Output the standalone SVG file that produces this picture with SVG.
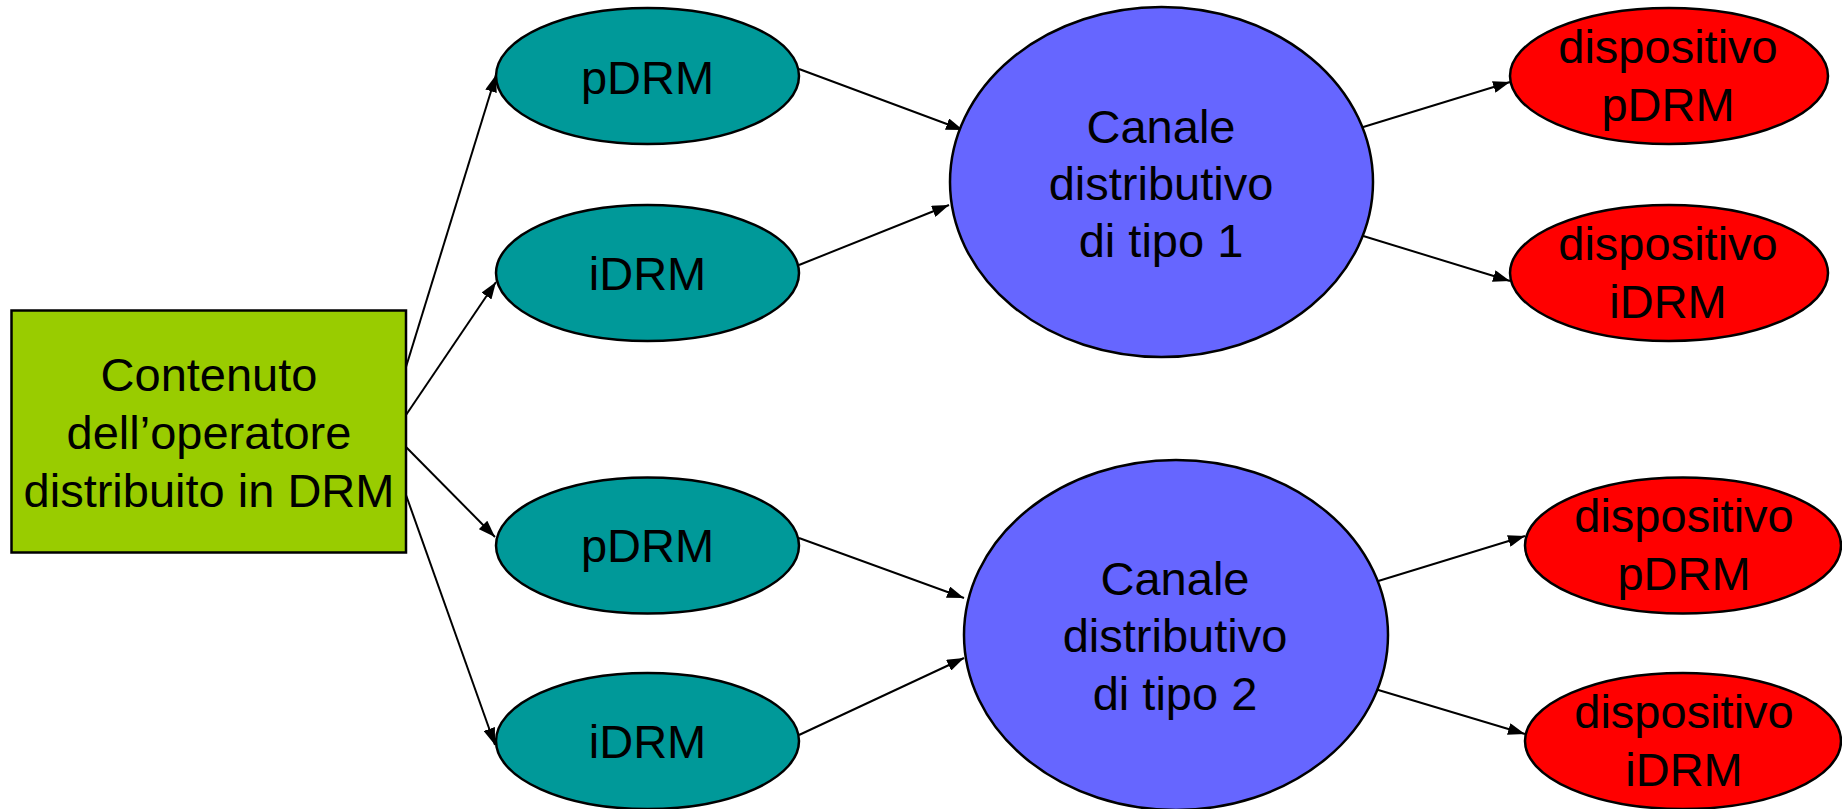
<svg xmlns="http://www.w3.org/2000/svg" width="1842" height="809" viewBox="0 0 1842 809">
<style>
.t{font-family:"Liberation Sans",Arial,sans-serif;font-size:47px;fill:#000;text-anchor:middle}
.n{stroke:#000;stroke-width:2.5}
.teal{fill:#009999}.blue{fill:#6666FF}.red{fill:#FF0000}.green{fill:#99CC00}
.c{stroke:#000;stroke-width:2;fill:none;marker-end:url(#ah)}
</style>
<defs>
<marker id="ah" markerUnits="userSpaceOnUse" markerWidth="18" markerHeight="12" refX="17" refY="6" orient="auto">
<path d="M0,0 L17,6 L0,12 z" fill="#000"/>
</marker>
</defs>
<rect width="1842" height="809" fill="#fff"/>
<g id="connectors">
<line class="c" x1="406" y1="367" x2="496" y2="75"/>
<line class="c" x1="406" y1="415" x2="496" y2="282"/>
<line class="c" x1="406" y1="447" x2="495" y2="537"/>
<line class="c" x1="406" y1="495" x2="495" y2="745"/>
<line class="c" x1="799" y1="69" x2="963" y2="130"/>
<line class="c" x1="799" y1="265" x2="949" y2="205"/>
<line class="c" x1="799" y1="538" x2="964" y2="598"/>
<line class="c" x1="799" y1="735" x2="964" y2="658"/>
<line class="c" x1="1360" y1="128" x2="1510" y2="82"/>
<line class="c" x1="1360" y1="235" x2="1510" y2="281"/>
<line class="c" x1="1375" y1="582" x2="1525" y2="536"/>
<line class="c" x1="1375" y1="689" x2="1525" y2="734"/>
</g>
<g id="source">
<rect class="n green" x="11.5" y="310.5" width="394.5" height="242"/>
<text class="t" x="209" y="391">Contenuto</text>
<text class="t" x="209" y="449">dell’operatore</text>
<text class="t" x="209" y="507">distribuito in DRM</text>
</g>
<g id="pdrm1">
<ellipse class="n teal" cx="647.5" cy="76" rx="151.5" ry="68"/>
<text class="t" x="647.5" y="94">pDRM</text>
</g>
<g id="idrm1">
<ellipse class="n teal" cx="647.5" cy="273" rx="151.5" ry="68"/>
<text class="t" x="647.5" y="290">iDRM</text>
</g>
<g id="pdrm2">
<ellipse class="n teal" cx="647.5" cy="545.5" rx="151.5" ry="68"/>
<text class="t" x="647.5" y="562">pDRM</text>
</g>
<g id="idrm2">
<ellipse class="n teal" cx="647.5" cy="741" rx="151.5" ry="68"/>
<text class="t" x="647.5" y="758">iDRM</text>
</g>
<g id="canale1">
<ellipse class="n blue" cx="1161.5" cy="182" rx="211.5" ry="175"/>
<text class="t" x="1161" y="143">Canale</text>
<text class="t" x="1161" y="200">distributivo</text>
<text class="t" x="1161" y="257">di tipo 1</text>
</g>
<g id="canale2">
<ellipse class="n blue" cx="1176" cy="635" rx="212" ry="175"/>
<text class="t" x="1175" y="595">Canale</text>
<text class="t" x="1175" y="652">distributivo</text>
<text class="t" x="1175" y="710">di tipo 2</text>
</g>
<g id="disp-pdrm1">
<ellipse class="n red" cx="1669" cy="76" rx="159" ry="68"/>
<text class="t" x="1668" y="63">dispositivo</text>
<text class="t" x="1668" y="121">pDRM</text>
</g>
<g id="disp-idrm1">
<ellipse class="n red" cx="1669" cy="273" rx="159" ry="68"/>
<text class="t" x="1668" y="260">dispositivo</text>
<text class="t" x="1668" y="318">iDRM</text>
</g>
<g id="disp-pdrm2">
<ellipse class="n red" cx="1683" cy="545.5" rx="158" ry="68"/>
<text class="t" x="1684" y="532">dispositivo</text>
<text class="t" x="1684" y="590">pDRM</text>
</g>
<g id="disp-idrm2">
<ellipse class="n red" cx="1683" cy="741" rx="158" ry="68"/>
<text class="t" x="1684" y="728">dispositivo</text>
<text class="t" x="1684" y="786">iDRM</text>
</g>
</svg>
